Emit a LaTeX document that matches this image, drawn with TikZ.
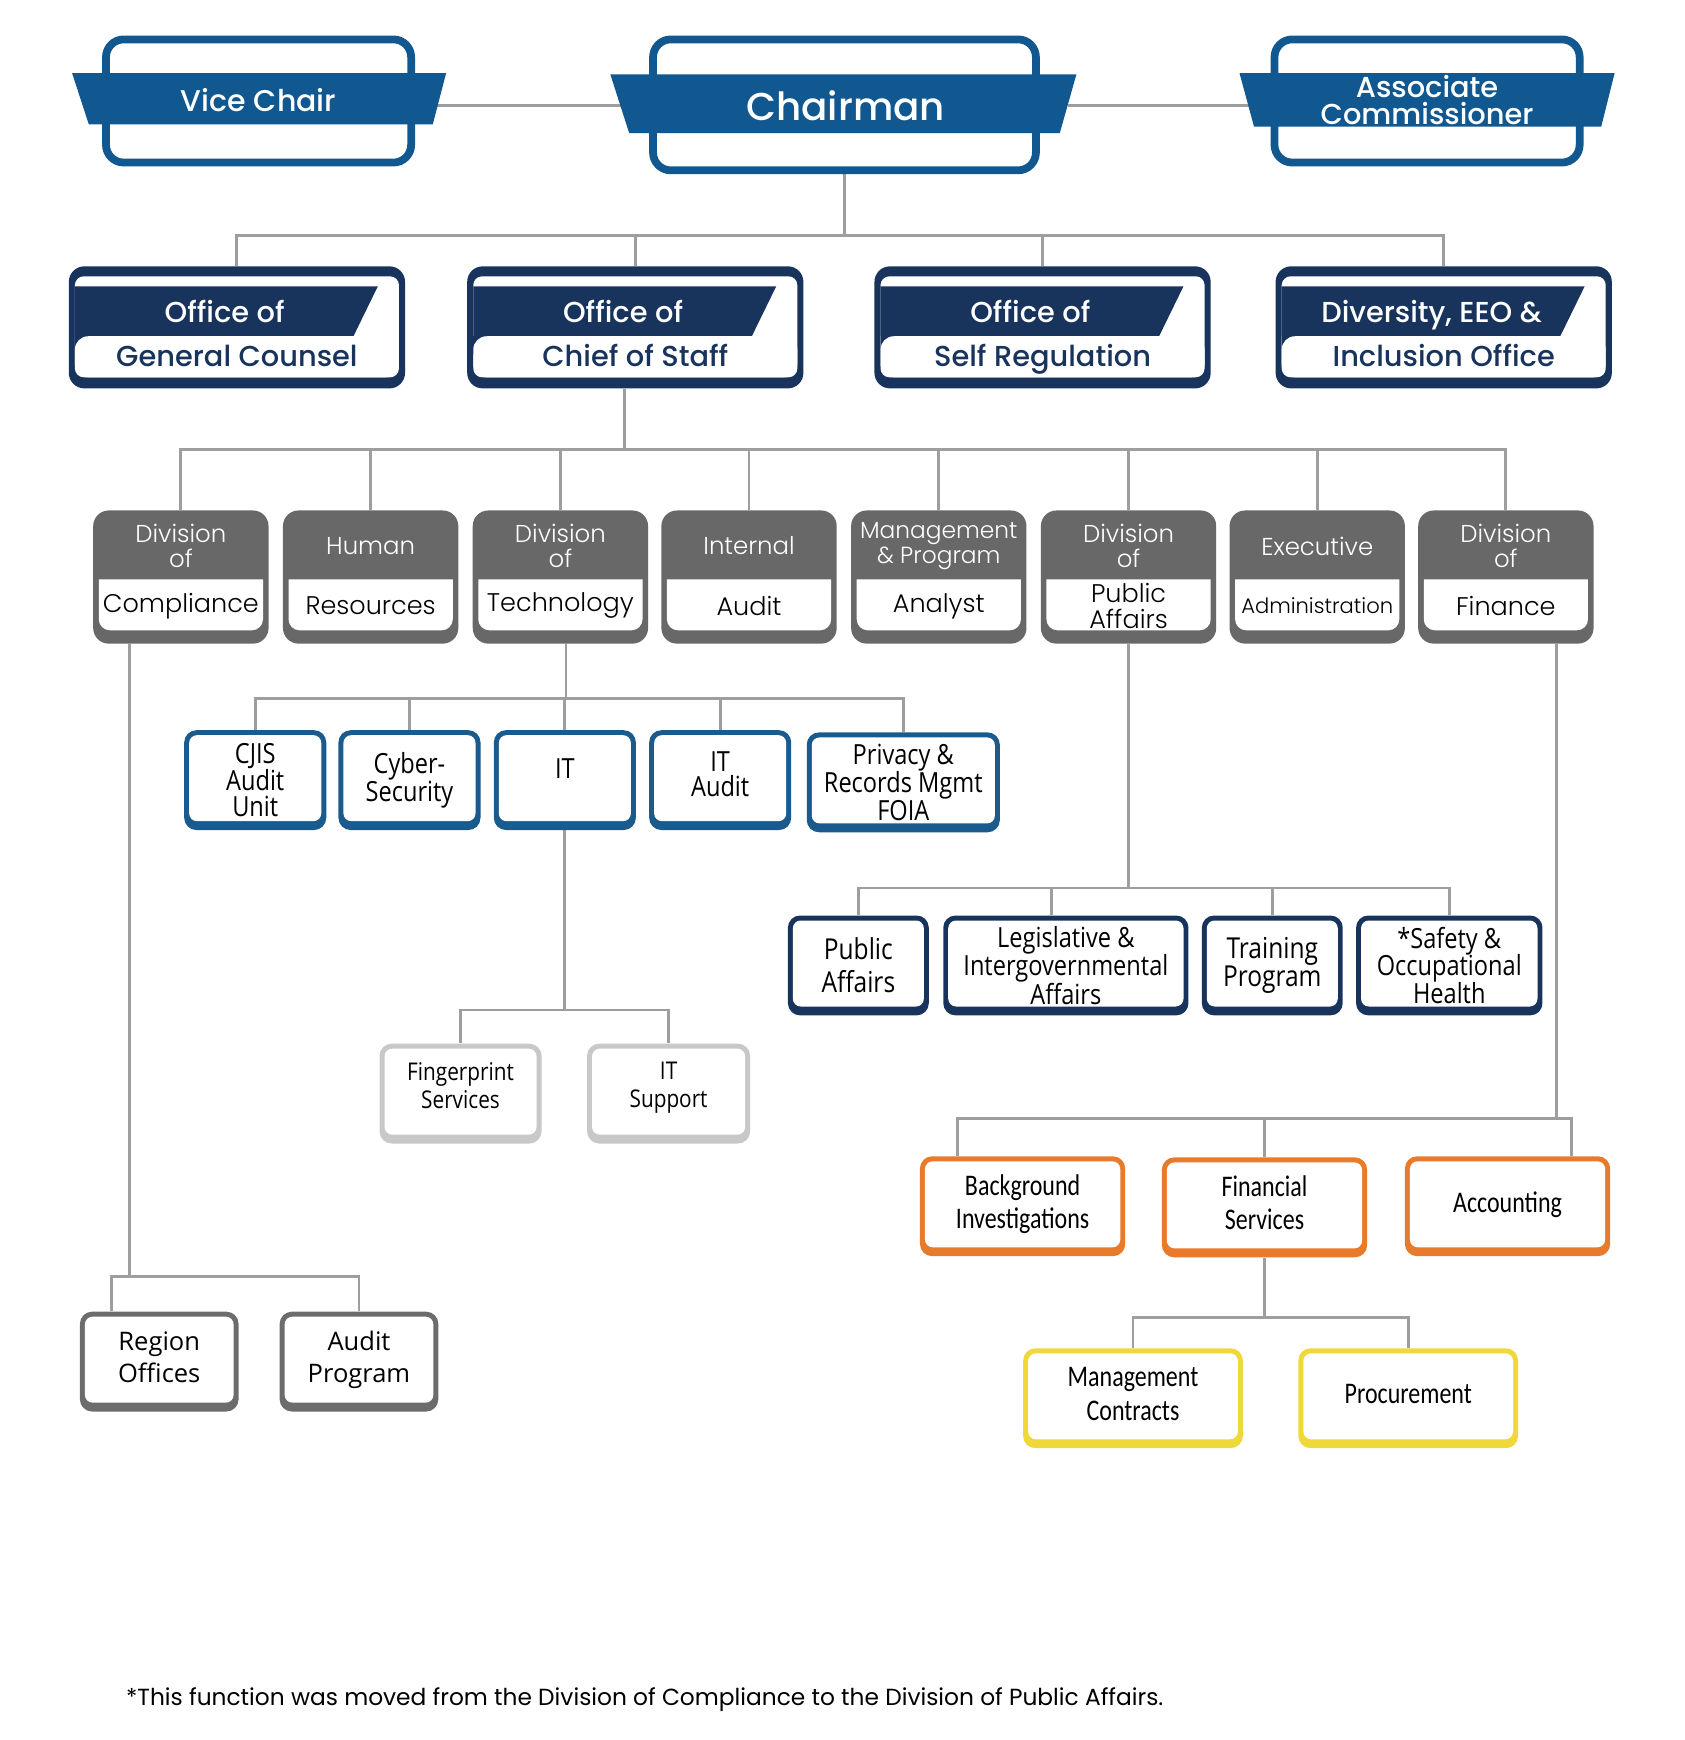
\documentclass[tikz,border=0pt]{standalone}
\usepackage{fontspec}
\setmainfont{Poppins}
\newfontfamily\medfont{Poppins Medium}
\newfontfamily\lightfont{Poppins Light}
\newfontfamily\unitfont[FakeStretch=0.85]{Open Sans}
\newfontfamily\plainfont{Open Sans}
\newfontfamily\calfont[FakeStretch=0.8]{Carlito}
\usepackage{tikz}
\usetikzlibrary{calc,backgrounds}

\definecolor{chairblue}{RGB}{16,88,143}
\definecolor{officenavy}{RGB}{24,52,92}
\definecolor{divgray}{RGB}{104,104,104}
\definecolor{unitblue}{RGB}{26,90,140}
\definecolor{linegray}{RGB}{158,158,158}
\definecolor{palegray}{RGB}{200,200,200}
\definecolor{fsorange}{RGB}{232,122,44}
\definecolor{fsyellow}{RGB}{240,216,58}
\definecolor{regiongray}{RGB}{108,108,108}

\tikzset{
  link/.style={draw=linegray, line width=2.6pt},
  topframe/.style={draw=chairblue, line width=7pt, fill=white, rounded corners=16pt},
  toplabel/.style={text=white, font=\medfont\fontsize{27}{24}\selectfont, align=center,
    minimum width=320pt, minimum height=46pt, inner sep=0pt},
  officeframe/.style={fill=officenavy, rounded corners=14pt, minimum width=303pt, minimum height=110pt},
  officetop/.style={text=white, font=\medfont\fontsize{26}{28}\selectfont, inner sep=0pt,
    text height=19pt, text depth=6pt},
  officebot/.style={text=officenavy, font=\medfont\fontsize{26}{28}\selectfont, inner sep=0pt,
    text height=19pt, text depth=6pt},
  divframe/.style={fill=divgray, rounded corners=14pt, minimum width=158pt, minimum height=120pt},
  divtop/.style={text=white, align=center, font=\lightfont\fontsize{22}{23}\selectfont, inner sep=0pt},
  divbot/.style={text=black, align=center, font=\lightfont\fontsize{23}{23}\selectfont, inner sep=0pt},
  orgunit/.style={fill=#1, rounded corners=11pt, minimum height=90pt, inner sep=0pt,
    align=center, text=black,
    path picture={\fill[white, rounded corners=7pt]
      ([shift={(4.5pt,-4.5pt)}]path picture bounding box.north west) rectangle
      ([shift={(-4.5pt,8pt)}]path picture bounding box.south east);}},
  blueunit/.style={orgunit=unitblue, font=\unitfont\fontsize{25}{23}\selectfont},
  navyunit/.style={orgunit=officenavy, font=\unitfont\fontsize{25}{25}\selectfont},
  paleunit/.style={orgunit=palegray, text depth=8pt, font=\unitfont\fontsize{22}{25}\selectfont},
  orangeunit/.style={orgunit=fsorange, text depth=8pt, minimum width=185pt, font=\calfont\fontsize{27}{30}\selectfont},
  yellowunit/.style={orgunit=fsyellow, text depth=8pt, minimum width=198pt, font=\calfont\fontsize{27}{30}\selectfont},
  grayunit/.style={orgunit=regiongray, text depth=8pt, minimum width=143pt, font=\plainfont\fontsize{23}{29}\selectfont},
}

% office box: name, x, upper text, lower text
\newcommand{\officeunit}[4]{%
  \node[officeframe] (#1) at (#2,295) {};
  \begin{scope}[shift={(#2,295)}]
    \fill[white, rounded corners=8pt] (-146,-46) rectangle (146,45);
    \fill[officenavy] (-146,-37) -- (127,-37) -- (105,8) -- (-146,8) -- cycle;
    \fill[officenavy] (-146,8) rectangle (-126,24);
    \fill[white, rounded corners=12pt] (-146,8) rectangle (146,45);
  \end{scope}
  \node[officetop] (#1-a) at ($(#1)+(-11,-11)$) {#3};
  \node[officebot] (#1-b) at ($(#1)+(0,29)$) {#4};
}

% division box: name, x, upper text, lower text
\newcommand{\divunit}[4]{%
  \node[divframe] (#1) at (#2,520) {};
  \begin{scope}[shift={(#2,520)}]
    \fill[white] (-74,2) -- (74,2) [rounded corners=10pt] -- (74,48) -- (-74,48) [sharp corners] -- cycle;
  \end{scope}
  \node[divtop] (#1-a) at ($(#1)+(0,-28)$) {#3};
  \node[divbot] (#1-b) at ($(#1)+(0,26)$) {#4};
}

\begin{document}
\begin{tikzpicture}[x=1pt, y=-1pt]
    \useasboundingbox (0,0) rectangle (1518,1568);

    % top row
    \node[topframe, minimum width=275pt, minimum height=111pt] (viceframe) at (233,91) {};
    \fill[chairblue] (65,66) -- (402,66) -- (390,112) -- (80,112) -- cycle;
    \node[toplabel] (vice) at (233,90) {Vice Chair};

    \node[topframe, minimum width=345pt, minimum height=118pt] (chairframe) at (761,94.5) {};
    \fill[chairblue] (550,67) -- (970,67) -- (955,120) -- (567,120) -- cycle;
    \node[toplabel, font=\medfont\fontsize{35}{38}\selectfont, minimum width=400pt, minimum height=53pt] (chair) at (762,95) {Chairman};

    \node[topframe, minimum width=275pt, minimum height=111pt] (assocframe) at (1286,91) {};
    \fill[chairblue] (1117,66) -- (1455,66) -- (1443,114) -- (1130,114) -- cycle;
    \node[toplabel, font=\medfont\fontsize{26}{24}\selectfont] (assoc) at (1286,90) {Associate\\Commissioner};

    % offices
    \officeunit{gc}{213.5}{Office of}{General Counsel}
    \officeunit{cos}{572.5}{Office of}{Chief of Staff}
    \officeunit{selfreg}{939.5}{Office of}{Self Regulation}
    \officeunit{dei}{1301}{Diversity, EEO \&}{Inclusion Office}

    % divisions
    \divunit{compl}{163}{Division\\of}{Compliance}
    \divunit{hr}{334}{Human}{Resources}
    \divunit{tech}{505}{Division\\of}{Technology}
    \divunit{intaudit}{675}{Internal}{Audit}
    \divunit{mpa}{846}{\fontsize{21}{23}\selectfont Management\\\fontsize{21}{23}\selectfont\& Program}{Analyst}
    \divunit{pubaff}{1017}{Division\\of}{Public\\Affairs}
    \divunit{execadmin}{1187}{Executive}{\fontsize{19}{22}\selectfont Administration}
    \divunit{finance}{1357}{Division\\of}{Finance}

    % technology units
    \node[blueunit, minimum width=128pt] (cjis) at (230,703) {CJIS\\Audit\\Unit};
    \node[blueunit, minimum width=128pt] (cyber) at (369,703) {Cyber-\\Security};
    \node[blueunit, minimum width=128pt, text depth=20pt] (it) at (509,703) {IT};
    \node[blueunit, minimum width=128pt, text depth=11pt] (itaudit) at (649,703) {IT\\Audit};
    \node[blueunit, minimum width=174pt] (privacy) at (814,705) {Privacy \&\\Records Mgmt\\FOIA};

    \node[paleunit, minimum width=146pt, text depth=14pt] (fingerprint) at (415,985.5) {Fingerprint\\Services};
    \node[paleunit, minimum width=147pt, text depth=16pt] (itsupport) at (602.5,985.5) {IT\\Support};

    % public affairs units
    \node[navyunit, minimum width=127pt, font=\unitfont\fontsize{26}{30}\selectfont] (pa) at (773.5,870) {Public\\Affairs};
    \node[navyunit, minimum width=221pt] (legis) at (960.5,870) {Legislative \&\\Intergovernmental\\Affairs};
    \node[navyunit, minimum width=127pt, font=\unitfont\fontsize{26}{26}\selectfont] (training) at (1146.5,870) {Training\\Program};
    \node[navyunit, minimum width=168pt] (safety) at (1306,870) {*Safety \&\\Occupational\\Health};

    % finance units
    \node[orangeunit] (bgi) at (921.5,1087) {Background\\Investigations};
    \node[orangeunit] (finserv) at (1139.5,1088) {Financial\\Services};
    \node[orangeunit] (accounting) at (1358.5,1087) {Accounting};
    \node[yellowunit] (mgmtc) at (1021,1260) {Management\\Contracts};
    \node[yellowunit] (procure) at (1269,1260) {Procurement};

    % compliance units
    \node[grayunit] (region) at (143.5,1227) {Region\\Offices};
    \node[grayunit] (audprog) at (323.5,1227) {Audit\\Program};

    \node[font=\fontsize{21}{23}\selectfont] (footnote) at (581,1532) {*This function was moved from the Division of Compliance to the Division of Public Affairs.};

    % connectors
    \begin{pgfonlayer}{background}
    \draw[link] (chair.west) -- (chair.west -| vice.east);
    \draw[link] (chair.east) -- (chair.east -| assoc.west);

    \draw[link] (chairframe.south) -- ++(0,55) coordinate (busA);
    \foreach \n in {gc,cos,selfreg,dei} \draw[link] (\n.north) |- (busA);

    \draw[link] ($(cos.south)+(-10,0)$) -- ++(0,55) coordinate (busB);
    \foreach \n in {compl,hr,tech,intaudit,mpa,pubaff,execadmin,finance} \draw[link] (\n.north) |- (busB);

    \draw[link] ($(compl.south)+(-46,0)$) -- ++(0,570) coordinate (busC);
    \draw[link] ($(region.north)+(-43,0)$) |- (busC);
    \draw[link] (audprog.north) |- (busC);

    \draw[link] ($(tech.south)+(5,0)$) -- ++(0,49) coordinate (busD);
    \foreach \n in {cjis,cyber,it,itaudit,privacy} \draw[link] (\n.north) |- (busD);

    \draw[link] (it.south) -- ++(0,162) coordinate (busE);
    \foreach \n in {fingerprint,itsupport} \draw[link] (\n.north) |- (busE);

    \draw[link] (pubaff.south) -- ++(0,220) coordinate (busF);
    \draw[link] ($(legis.north)+(-13,0)$) |- (busF);
    \foreach \n in {pa,training,safety} \draw[link] (\n.north) |- (busF);

    \draw[link] ($(finance.south)+(46,0)$) -- ++(0,428) coordinate (busG);
    \draw[link] ($(bgi.north)+(-59,0)$) |- (busG);
    \draw[link] ($(accounting.north)+(58,0)$) |- (busG);
    \draw[link] (finserv.north) |- (busG);

    \draw[link] (finserv.south) -- ++(0,54) coordinate (busH);
    \foreach \n in {mgmtc,procure} \draw[link] (\n.north) |- (busH);
    \end{pgfonlayer}
\end{tikzpicture}
\end{document}
